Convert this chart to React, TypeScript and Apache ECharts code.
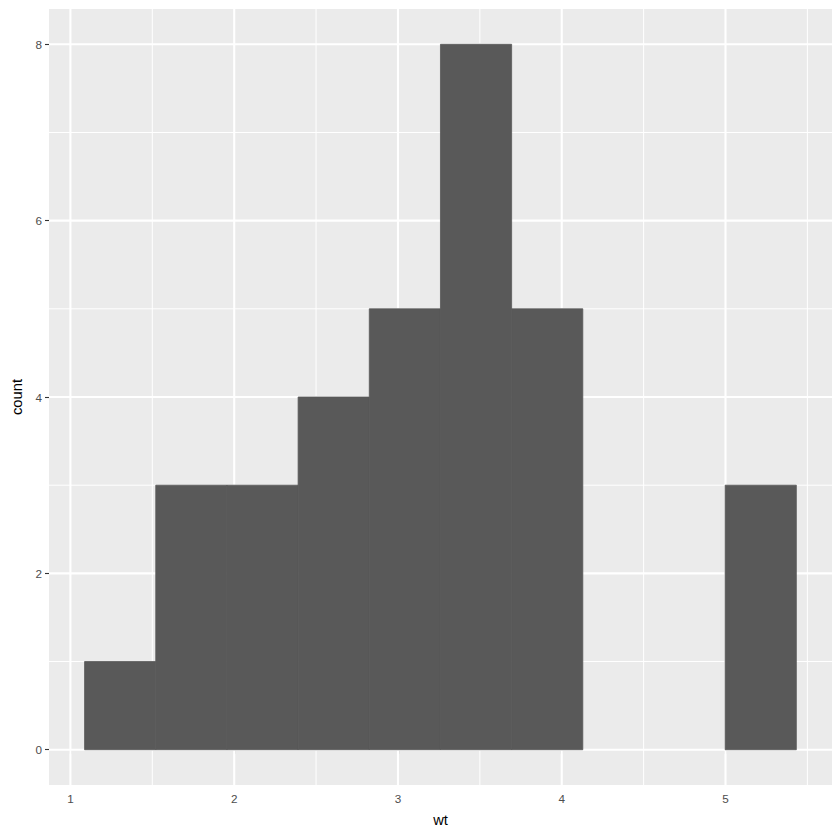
import React, { useEffect, useRef } from "react";
import * as echarts from "echarts";

const binStarts = [1.0865, 1.5211, 1.9557, 2.3903, 2.8249, 3.2595, 3.6941, 4.1287, 4.5633, 4.9979];
const binWidth = 0.4346;
const counts = [1, 3, 3, 4, 5, 8, 5, 0, 0, 3];
const xTicks = [1, 2, 3, 4, 5];
const xMinor = [1.5, 2.5, 3.5, 4.5, 5.5];
const yTicks = [0, 2, 4, 6, 8];
const yMinor = [1, 3, 5, 7];
const xRange = [0.8692, 5.6503];
const yRange = [-0.4, 8.4];

export default function App() {
  const ref = useRef<HTMLDivElement>(null);
  useEffect(() => {
    if (!ref.current) return;
    const chart = echarts.init(ref.current, null, { renderer: "svg" });
    const gridData: any[] = [];
    xMinor.forEach((v) => gridData.push([0, v, 1]));
    yMinor.forEach((v) => gridData.push([1, v, 1]));
    xTicks.forEach((v) => gridData.push([0, v, 2.1]));
    yTicks.forEach((v) => gridData.push([1, v, 2.1]));
    const barData = binStarts
      .map((s, i) => [s, s + binWidth, counts[i]])
      .filter((d) => d[2] > 0);
    const font = "'Liberation Sans', Arial, sans-serif";
    chart.setOption({
      animation: false,
      grid: {
        left: 49,
        right: 8,
        top: 9,
        bottom: 55,
        show: true,
        backgroundColor: "#EBEBEB",
        borderWidth: 0,
      },
      xAxis: {
        type: "value",
        min: xRange[0],
        max: xRange[1],
        name: "wt",
        nameLocation: "middle",
        nameGap: 27,
        nameTextStyle: { fontFamily: font, fontSize: 14.7, color: "#000000" },
        axisLine: { show: false },
        splitLine: { show: false },
        axisTick: {
          show: true,
          length: 4,
          lineStyle: { color: "#333333", width: 1.1 },
          customValues: xTicks,
        },
        axisLabel: {
          customValues: xTicks,
          fontFamily: font,
          fontSize: 11.7,
          color: "#4D4D4D",
          margin: 7,
          formatter: (v: number) => String(v),
        },
      },
      yAxis: {
        type: "value",
        min: yRange[0],
        max: yRange[1],
        name: "count",
        nameLocation: "middle",
        nameGap: 24,
        nameRotate: 90,
        nameTextStyle: { fontFamily: font, fontSize: 14.7, color: "#000000" },
        axisLine: { show: false },
        splitLine: { show: false },
        axisTick: {
          show: true,
          length: 4,
          lineStyle: { color: "#333333", width: 1.1 },
          customValues: yTicks,
        },
        axisLabel: {
          customValues: yTicks,
          fontFamily: font,
          fontSize: 11.7,
          color: "#4D4D4D",
          margin: 7,
          formatter: (v: number) => String(v),
        },
      },
      series: [
        {
          type: "custom",
          silent: true,
          data: gridData,
          z: 1,
          renderItem: (params: any, api: any) => {
            const dir = api.value(0);
            const v = api.value(1);
            const w = api.value(2);
            let p1, p2;
            if (dir === 0) {
              p1 = api.coord([v, yRange[1]]);
              p2 = api.coord([v, yRange[0]]);
            } else {
              p1 = api.coord([xRange[0], v]);
              p2 = api.coord([xRange[1], v]);
            }
            return {
              type: "line",
              shape: { x1: p1[0], y1: p1[1], x2: p2[0], y2: p2[1] },
              style: { stroke: "#FFFFFF", lineWidth: w },
            };
          },
        },
        {
          type: "custom",
          silent: true,
          data: barData,
          z: 2,
          renderItem: (params: any, api: any) => {
            const a = api.coord([api.value(0), api.value(2)]);
            const b = api.coord([api.value(1), 0]);
            return {
              type: "rect",
              shape: { x: a[0], y: a[1], width: b[0] - a[0], height: b[1] - a[1] },
              style: { fill: "#595959", stroke: "#595959", lineWidth: 0.8 },
            };
          },
        },
      ],
    });
    return () => chart.dispose();
  }, []);
  return (
    <div
      ref={ref}
      style={{ position: "fixed", left: 0, top: 0, width: 840, height: 840, background: "#FFFFFF" }}
    />
  );
}
